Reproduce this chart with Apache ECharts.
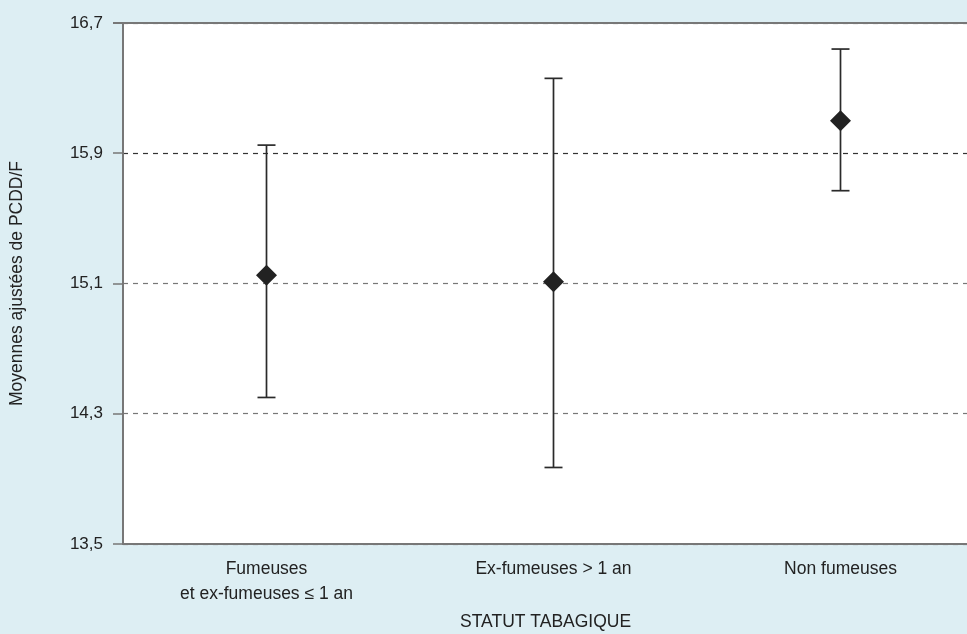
<!DOCTYPE html>
<html>
<head>
<meta charset="utf-8">
<script src="https://cdn.jsdelivr.net/npm/echarts@6/dist/echarts.min.js"></script>
<style>
  html, body { margin: 0; padding: 0; background: #ddeef3; }
  #chart { width: 967px; height: 634px; }
</style>
</head>
<body>
<div id="chart"></div>
<script>
// Smoking status groups
const categories = ['Fumeuses\net ex-fumeuses \u2264 1 an', 'Ex-fumeuses > 1 an', 'Non fumeuses'];
// Adjusted means of PCDD/F with their confidence bounds
const means = [15.15, 15.11, 16.10];
const lower = [14.40, 13.97, 15.67];
const upper = [15.95, 16.36, 16.54];
// Y axis range and step
const yMin = 13.5, yMax = 16.7, yStep = 0.8;

const FONT = '"Liberation Sans", Arial, sans-serif';
const chart = echarts.init(document.getElementById('chart'));

const fmt = v => v.toFixed(1).replace('.', ',');

chart.setOption({
  backgroundColor: '#ddeef3',
  animation: false,
  grid: {
    left: 123, right: -17, top: 23, bottom: 90,
    outerBoundsMode: 'none', containLabel: false,
    show: true, backgroundColor: '#ffffff', borderWidth: 0
  },
  xAxis: {
    type: 'category',
    data: categories,
    boundaryGap: true,
    axisLine: { show: true, lineStyle: { color: '#777', width: 2 } },
    axisTick: { show: false },
    axisLabel: { color: '#222', fontFamily: FONT, fontSize: 17.5, lineHeight: 25, margin: 13, interval: 0 },
    splitLine: { show: false }
  },
  yAxis: {
    type: 'value',
    min: yMin, max: yMax, interval: yStep,
    name: 'Moyennes ajustées de PCDD/F',
    nameLocation: 'middle',
    nameGap: 97,
    nameTextStyle: { color: '#222', fontFamily: FONT, fontSize: 17.5 },
    axisLine: { show: true, lineStyle: { color: '#777', width: 2 } },
    axisTick: { show: true, length: 10, lineStyle: { color: '#777', width: 1.5 } },
    axisLabel: { color: '#222', fontFamily: FONT, fontSize: 17, margin: 20, formatter: fmt },
    splitLine: { show: true, lineStyle: { color: ['#777', '#777', '#777', '#333', '#777'], type: [5, 5], width: 1.2 } }
  },
  graphic: [
    // top border of the plotting area
    { type: 'line', shape: { x1: 113, y1: 23, x2: 967, y2: 23 }, style: { stroke: '#777', lineWidth: 2 }, z: 10 },
    { type: 'text', left: 460, top: 613, style: { text: 'STATUT TABAGIQUE', fill: '#222', font: '17.5px ' + FONT } }
  ],
  series: [
    {
      type: 'custom',
      data: categories.map((c, i) => [i, lower[i], upper[i]]),
      renderItem: function (params, api) {
        const lo = api.coord([api.value(0), api.value(1)]);
        const hi = api.coord([api.value(0), api.value(2)]);
        const half = 9;
        const style = { stroke: '#2a2a2a', lineWidth: 1.7 };
        return {
          type: 'group',
          children: [
            { type: 'line', shape: { x1: lo[0], y1: lo[1], x2: hi[0], y2: hi[1] }, style: style },
            { type: 'line', shape: { x1: lo[0] - half, y1: lo[1], x2: lo[0] + half, y2: lo[1] }, style: style },
            { type: 'line', shape: { x1: hi[0] - half, y1: hi[1], x2: hi[0] + half, y2: hi[1] }, style: style }
          ]
        };
      },
      z: 5
    },
    {
      type: 'scatter',
      data: means.map((m, i) => [i, m]),
      symbol: 'diamond',
      symbolSize: 21,
      itemStyle: { color: '#222', opacity: 1 },
      z: 6
    }
  ]
});
</script>
</body>
</html>
